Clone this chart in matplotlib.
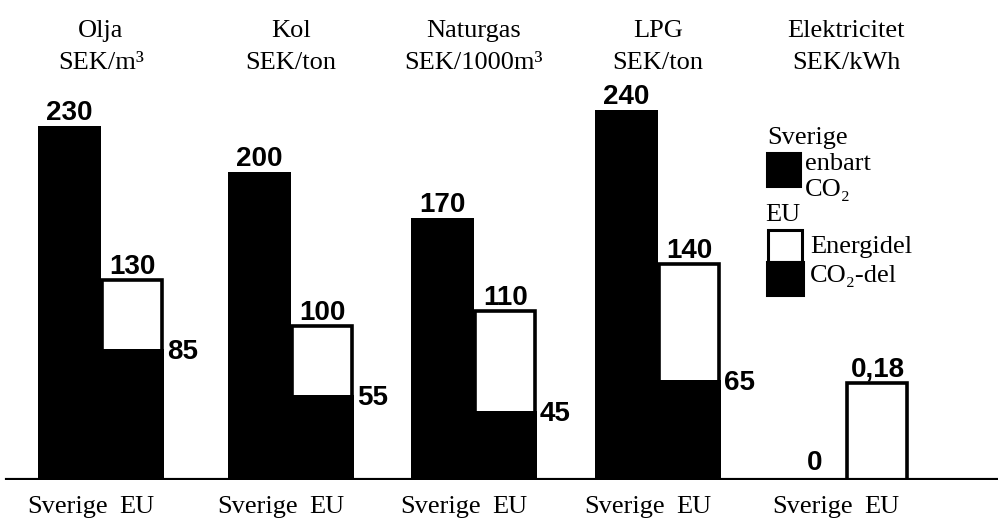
import matplotlib.pyplot as plt

# data
kategorier = ['Olja', 'Kol', 'Naturgas', 'LPG', 'Elektricitet']
enheter = ['SEK/m³', 'SEK/ton', 'SEK/1000m³', 'SEK/ton', 'SEK/kWh']
sverige = [230, 200, 170, 240, 0]
eu_total = [130, 100, 110, 140, 0.18]
eu_co2 = [85, 55, 45, 65, 0]
sverige_txt = ['230', '200', '170', '240', '0']
eu_total_txt = ['130', '100', '110', '140', '0,18']
eu_co2_txt = ['85', '55', '45', '65', '']
# electricity is drawn on its own scale
skala = [1, 1, 1, 1, 350]

serif = ['Liberation Serif', 'DejaVu Serif']
sans = ['Liberation Sans', 'DejaVu Sans']

W, H = 998, 522
px = 1.54  # pixels per unit
bas = 480  # baseline, pixels from top

fig = plt.figure(figsize=(W / 100, H / 100), dpi=100)
ax = fig.add_axes([0, (H - bas) / H, 1, bas / H])
ax.set_xlim(0, W)
ax.set_ylim(0, bas / px)
ax.axis('off')

grans = [101, 291, 474, 658, 846]
bredd = 63
sv_x = [g - bredd / 2 for g in grans]
eu_x = [g + bredd / 2 for g in grans]

sv_h = [v * s for v, s in zip(sverige, skala)]
eu_h = [v * s for v, s in zip(eu_total, skala)]
co2_h = [v * s for v, s in zip(eu_co2, skala)]

ax.bar(sv_x, sv_h, width=bredd, color='black', lw=0)
ax.bar(eu_x, eu_h, width=bredd - 3, facecolor='white', edgecolor='black', lw=2.6)
ax.bar(eu_x, co2_h, width=bredd, color='black', lw=0)
ax.axhline(0, xmin=7 / W, xmax=1, color='black', lw=3)

for i in range(len(kategorier)):
    ax.text(sv_x[i], sv_h[i] + (4 / px if sv_h[i] == 0 else 0), sverige_txt[i],
            ha='center', va='bottom', fontsize=20, fontweight='bold', family=sans)
    ax.text(eu_x[i], eu_h[i], eu_total_txt[i], ha='center', va='bottom',
            fontsize=20, fontweight='bold', family=sans)
    if eu_co2_txt[i]:
        ax.text(eu_x[i] + bredd / 2 + 3, co2_h[i] - 3 / px, eu_co2_txt[i],
                ha='left', va='center', fontsize=20, fontweight='bold', family=sans)

    # titles and bottom labels
    fig.text(grans[i] / W, 1 - 31 / H, kategorier[i], ha='center', va='center',
             fontsize=19, family=serif)
    fig.text(grans[i] / W, 1 - 63 / H, enheter[i], ha='center', va='center',
             fontsize=19, family=serif)
    fig.text((sv_x[i] - 2) / W, 1 - 507 / H, 'Sverige', ha='center', va='center',
             fontsize=19, family=serif)
    fig.text((eu_x[i] + 4) / W, 1 - 507 / H, 'EU', ha='center', va='center',
             fontsize=19, family=serif)

# legend
def ruta(x0, y0, x1, y1, fc, ec='black'):
    r = plt.Rectangle((x0 / W, 1 - y1 / H), (x1 - x0) / W, (y1 - y0) / H,
                      transform=fig.transFigure, facecolor=fc, edgecolor=ec, lw=2.2)
    fig.patches.append(r)

fig.text(767 / W, 1 - 138 / H, 'Sverige', ha='left', va='center', fontsize=19, family=serif)
ruta(767, 153, 800, 186, 'black')
fig.text(805 / W, 1 - 164 / H, 'enbart', ha='left', va='center', fontsize=19, family=serif)
fig.text(805 / W, 1 - 190 / H, 'CO₂', ha='left', va='center', fontsize=19, family=serif)
fig.text(765 / W, 1 - 215 / H, 'EU', ha='left', va='center', fontsize=19, family=serif)
ruta(768, 230, 802, 262, 'white')
ruta(767, 262, 803, 295, 'black')
fig.text(810 / W, 1 - 247 / H, 'Energidel', ha='left', va='center', fontsize=19, family=serif)
fig.text(810 / W, 1 - 276 / H, 'CO₂-del', ha='left', va='center', fontsize=19, family=serif)

fig.savefig('out.png', dpi=100)
